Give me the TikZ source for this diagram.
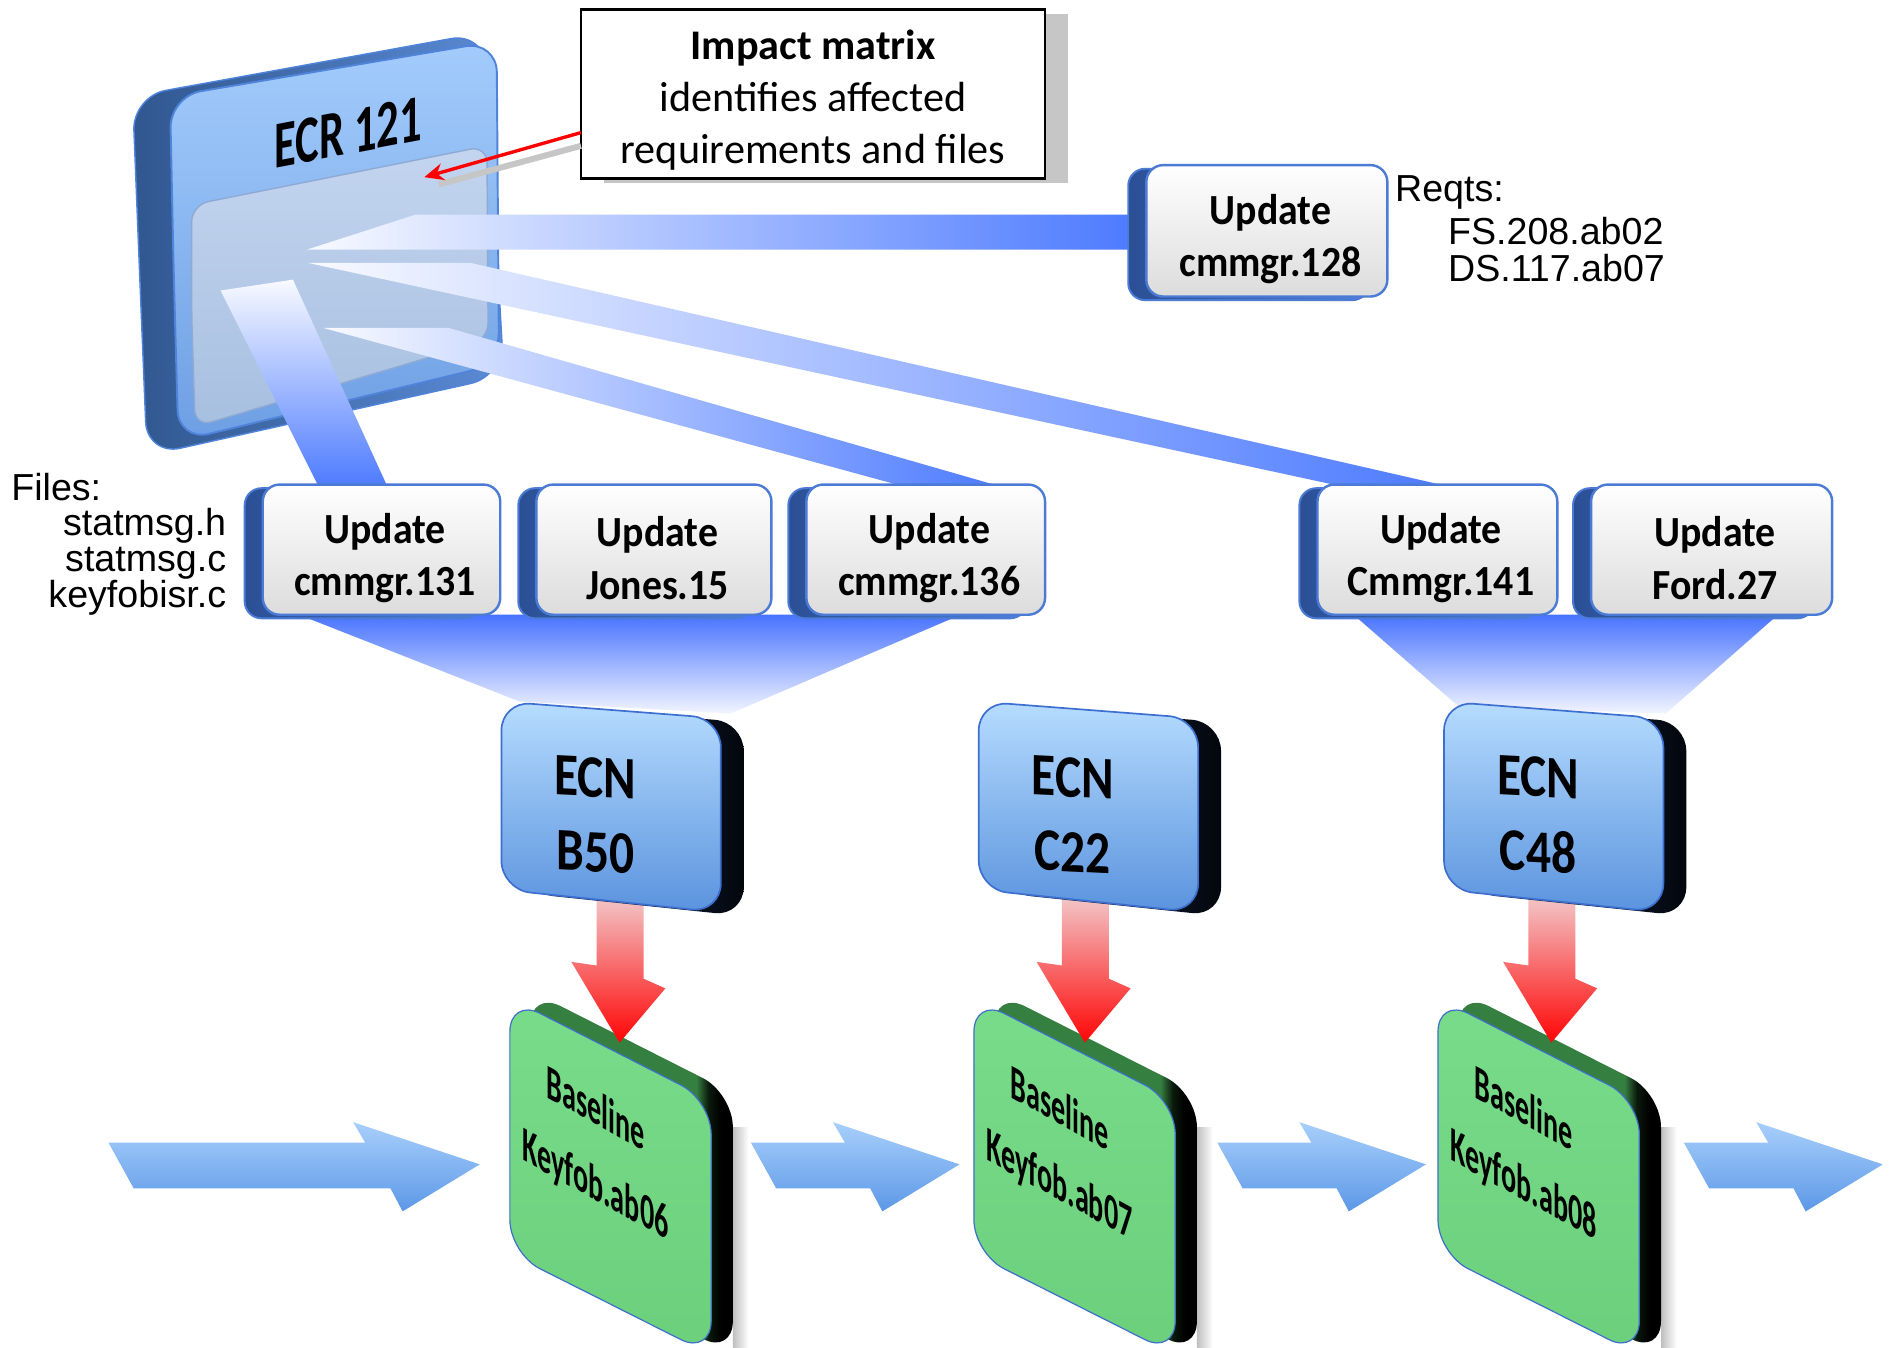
\documentclass[tikz,border=0pt]{standalone}
\usepackage{fontspec}
\newfontfamily\calfont{Carlito}
\newfontfamily\arifont{Liberation Sans}
\usetikzlibrary{arrows.meta}
\definecolor{beamw}{HTML}{F8FAFF}
\definecolor{beamb}{HTML}{4C7AFF}
\definecolor{funtop}{HTML}{4873FF}
\definecolor{funbot}{HTML}{F2F5FF}
\definecolor{rimL}{HTML}{30578F}
\definecolor{rimR}{HTML}{5B8BD6}
\definecolor{ecrT}{HTML}{A3CCFC}
\definecolor{ecrB}{HTML}{6E9FE4}
\definecolor{ecrE}{HTML}{4F84DA}
\definecolor{scrT}{HTML}{C3D5EF}
\definecolor{scrB}{HTML}{A7BFE0}
\definecolor{scrE}{HTML}{8FAAD4}
\definecolor{ubackL}{HTML}{2A4F95}
\definecolor{ubackR}{HTML}{4C80D8}
\definecolor{uedge}{HTML}{4C7BD6}
\definecolor{ufaceB}{HTML}{DCDCDC}
\definecolor{ecnbL}{HTML}{1E3A6A}
\definecolor{ecnbR}{HTML}{03060C}
\definecolor{ecnT}{HTML}{B6DCFF}
\definecolor{ecnB}{HTML}{5A93DE}
\definecolor{ecnE}{HTML}{3D6FD0}
\definecolor{grT}{HTML}{78DC8A}
\definecolor{grB}{HTML}{6BCF7C}
\definecolor{grE}{HTML}{3E6FCC}
\definecolor{grBack}{HTML}{357F40}
\definecolor{redT}{HTML}{F3C6C8}
\definecolor{redB}{HTML}{FF0505}
\definecolor{flowT}{HTML}{A8CFFB}
\definecolor{flowB}{HTML}{5C98E7}
\definecolor{shadowgray}{HTML}{C6C6C6}
\pgfdeclarehorizontalshading{grside}{100bp}{color(0bp)=(grBack); color(66bp)=(grBack); color(69bp)=(black!80!grBack); color(72bp)=(black); color(100bp)=(black)}

\newcommand\ubox[6]{%
  \path[uback] (#2-15,#3+3) rectangle (#4-15,#5+3);
  \path[uface] (#2,#3) rectangle (#4,#5);
  \begin{scope}[shift={({(#2+#4)/2+3},{(#3+#5)/2+7})},yscale=1.08]
    \node[utext,transform shape] (#1) at (0,0) {#6};
  \end{scope}
}
\newcommand\ecnbox[3]{%
  \begin{scope}[shift={(#1,0)}]
    \path[ecnback] (435,663) -- (435,585) -- (617,599) -- (617,760) -- (435,741) -- cycle;
    \path[ecnface] (416,660) -- (416,582) -- (598,596) -- (598,757) -- (416,738) -- cycle;
    \begin{scope}[shift={(494,676)},yslant=-0.05,yscale=1.22]
      \node[ecntext,transform shape] (#2) at (0,0) {ECN\\#3};
    \end{scope}
  \end{scope}
}
\newcommand\blbox[3]{%
  \begin{scope}[shift={(#1,0)}]
    \path[left color=black!25,right color=white] (608,935) rectangle (621,1118);
    \path[blback] (440,929) -- (440,822) -- (608,907) -- (608,1124) -- (440,1034) -- cycle;
    \path[blface] (423,934) -- (423,828) -- (590,913) -- (590,1124) -- (423,1040) -- cycle;
    \begin{scope}[shift={(494,953)},yslant=-0.55,xscale=0.57]
      \node[bltext,transform shape] (#2) at (0,0) {Baseline\\Keyfob.#3};
    \end{scope}
  \end{scope}
}
\newcommand\redarr[1]{%
  \begin{scope}[shift={(#1,0)}]
    \path[redar] (495,744) -- (534,744) -- (534,812) -- (552,820) -- (514,865) -- (474,798) -- (495,801) -- cycle;
  \end{scope}
}
\newcommand\flowarr[2]{%
  \path[flow] (#1,948) -- (#2-95,948) -- (#2-105,931) -- (#2,966) -- (#2-64,1005) -- (#2-74,986) -- (#1+21,986) -- cycle;
}

\begin{document}
\begin{tikzpicture}[x=0.5pt,y=-0.5pt,
  beamL/.style={left color=beamw,right color=beamb},
  beamV/.style={top color=beamw,bottom color=beamb},
  funnel/.style={top color=funtop,bottom color=funbot},
  uback/.style={rounded corners=7pt,left color=ubackL,right color=ubackR,draw=uedge,line width=0.8pt},
  uface/.style={rounded corners=7pt,top color=white,bottom color=ufaceB,draw=uedge,line width=1pt},
  utext/.style={font=\calfont\bfseries\fontsize{16.5}{20}\selectfont,align=center,inner sep=0pt},
  ecnback/.style={rounded corners=12pt,left color=ecnbL,right color=ecnbR},
  ecnface/.style={rounded corners=12pt,top color=ecnT,bottom color=ecnB,draw=ecnE,line width=0.7pt},
  ecntext/.style={font=\calfont\bfseries\fontsize{20.5}{25.5}\selectfont,align=center,inner sep=0pt},
  blback/.style={rounded corners=14pt,shading=grside},
  blface/.style={rounded corners=14pt,top color=grT,bottom color=grB,draw=grE,line width=0.5pt},
  bltext/.style={font=\calfont\bfseries\fontsize{20.5}{31.5}\selectfont,align=center,inner sep=0pt},
  redar/.style={top color=redT,bottom color=redB},
  flow/.style={top color=flowT,bottom color=flowB},
  lab/.style={font=\arifont\fontsize{15.6}{15}\selectfont,inner sep=0pt}
]
\useasboundingbox[fill=white] (0,0) rectangle (1568,1118);

% ECR 121 panel
\path[left color=rimL,right color=rimR,draw=ecrE,line width=0.6pt,rounded corners=14pt]
  (116,231) -- (110,80) -- (402,27) -- (418,312) -- (122,378) -- cycle;
\path[top color=ecrT,bottom color=ecrB,draw=ecrE,line width=0.8pt,rounded corners=13pt]
  (144,222) -- (141,80) -- (412,34) -- (414,302) -- (148,366) -- cycle;
\path[top color=scrT,bottom color=scrB,draw=scrE,line width=0.6pt,rounded corners=7pt]
  (159,262) -- (159,170) -- (404,121) -- (405,282) -- (162,354) -- cycle;
\begin{scope}[shift={(289,110)},yslant=0.19]
  \node[transform shape,font=\calfont\bfseries\fontsize{18.5}{20}\selectfont,inner sep=0pt] (ecr) at (0,0) {\scalebox{1}[1.5]{ECR 121}};
\end{scope}

% beams from the ECR
\path[beamL] (345,178) -- (945,178) -- (945,207) -- (255,207) -- cycle;
\path[beamL] (255,218) -- (390,218) -- (1208,405) -- (1120,405) -- cycle;
\path[beamL] (268,272) -- (372,272) -- (835,405) -- (755,405) -- cycle;
\path[beamV] (183,241) -- (243,232) -- (322,405) -- (265,405) -- cycle;

% impact matrix callout
\fill[shadowgray] (501,12) rectangle (886,152);
\node[draw=black,line width=1pt,fill=white,minimum width=192.5pt,minimum height=70pt,inner sep=0pt] (impact) at (674.5,78) {};
\node[inner sep=0pt,align=center,font=\calfont\fontsize{17.5}{21.5}\selectfont] (impacttext) at (674.5,83)
  {{\bfseries Impact matrix}\\identifies affected\\requirements and files};
\coordinate (shS) at (482,121);
\coordinate (shE) at (364,153);
\coordinate (arrS) at (482,110);
\coordinate (arrE) at (352,147);
\draw[shadowgray,line width=2.5pt] (shS) -- (shE);
\draw[red,line width=1.4pt,-{Stealth[length=8pt,width=7pt]}] (arrS) -- (arrE);

% funnels
\path[funnel] (248,510) -- (797,510) -- (606,592) -- (431,582) -- cycle;
\path[funnel] (1123,510) -- (1475,510) -- (1382,592) -- (1210,586) -- cycle;

% update boxes
\ubox{u131}{218}{402}{415}{510}{Update\\cmmgr.131}
\ubox{uJ15}{445}{402}{640}{510}{Update\\Jones.15}
\ubox{u136}{669}{402}{867}{510}{Update\\cmmgr.136}
\ubox{u141}{1093}{402}{1292}{510}{Update\\Cmmgr.141}
\ubox{uF27}{1320}{402}{1520}{510}{Update\\Ford.27}
\ubox{u128}{951}{137}{1151}{246}{Update\\cmmgr.128}

% baselines
\blbox{0}{bl06}{ab06}
\blbox{385}{bl07}{ab07}
\blbox{770}{bl08}{ab08}

% red arrows
\redarr{0}
\redarr{386}
\redarr{773}

% ECN boxes
\ecnbox{0}{ecnB50}{B50}
\ecnbox{396}{ecnC22}{C22}
\ecnbox{782}{ecnC48}{C48}

% flow arrows
\flowarr{90}{398}
\flowarr{623}{796}
\flowarr{1010}{1183}
\flowarr{1397}{1562}

% labels
\node[lab,anchor=west] (files) at (9,404) {Files:};
\node[lab,anchor=east,align=right] (filelist) at (188,466) {statmsg.h\\statmsg.c\\keyfobisr.c};
\node[lab,anchor=west] (reqts) at (1157,160) {Reqts:};
\node[lab,anchor=west,align=left] (reqlist) at (1201,207) {FS.208.ab02\\DS.117.ab07};
\end{tikzpicture}
\end{document}
